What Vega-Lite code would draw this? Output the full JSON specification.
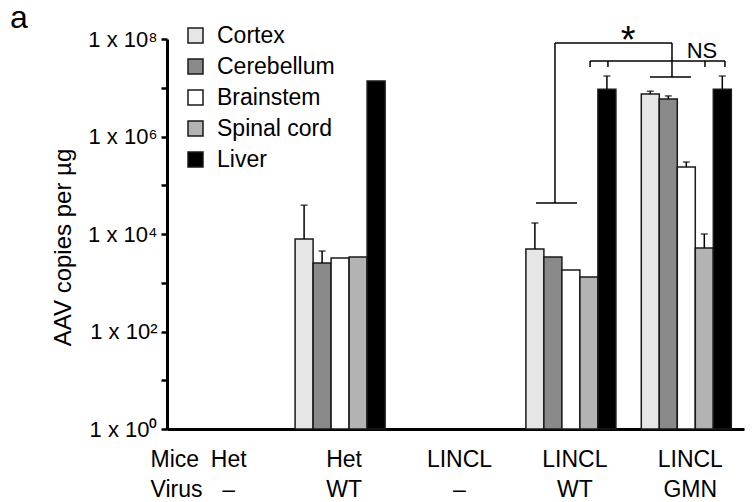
{
  "$schema": "https://vega.github.io/schema/vega-lite/v6.json",
  "width": 577,
  "height": 390,
  "autosize": {"type": "none"},
  "padding": {"left": 167, "top": 39, "right": 10, "bottom": 73},
  "background": "white",
  "config": {"font": "Liberation Sans", "view": {"stroke": null}, "axis": {"grid": false}},
  "title": {"text": "a", "anchor": "start", "frame": "group", "font": "Liberation Sans", "fontSize": 32, "fontWeight": "normal", "color": "black", "dx": -157, "dy": 37, "offset": 0, "baseline": "alphabetic"},
  "datasets": {
    "bars": [
      {"group": "Het|WT", "tissue": "Cortex", "value": 7900, "err": 39000},
      {"group": "Het|WT", "tissue": "Cerebellum", "value": 2540, "err": 4470},
      {"group": "Het|WT", "tissue": "Brainstem", "value": 3230, "err": null},
      {"group": "Het|WT", "tissue": "Spinal cord", "value": 3390, "err": null},
      {"group": "Het|WT", "tissue": "Liver", "value": 13800000, "err": null},
      {"group": "LINCL|WT", "tissue": "Cortex", "value": 4920, "err": 16800},
      {"group": "LINCL|WT", "tissue": "Cerebellum", "value": 3390, "err": null},
      {"group": "LINCL|WT", "tissue": "Brainstem", "value": 1830, "err": null},
      {"group": "LINCL|WT", "tissue": "Spinal cord", "value": 1310, "err": null},
      {"group": "LINCL|WT", "tissue": "Liver", "value": 9300000, "err": 17400000},
      {"group": "LINCL|GMN", "tissue": "Cortex", "value": 7400000, "err": 8500000},
      {"group": "LINCL|GMN", "tissue": "Cerebellum", "value": 5900000, "err": 6800000},
      {"group": "LINCL|GMN", "tissue": "Brainstem", "value": 236000, "err": 300000},
      {"group": "LINCL|GMN", "tissue": "Spinal cord", "value": 5150, "err": 10000},
      {"group": "LINCL|GMN", "tissue": "Liver", "value": 9300000, "err": 17400000}
    ],
    "brackets": [
      {"xa": 3.362, "xb": 4.376, "ya": 82800000, "yb": 82800000},
      {"xa": 3.362, "xb": 3.362, "ya": 82800000, "yb": 43200},
      {"xa": 3.198, "xb": 3.553, "ya": 43200, "yb": 43200},
      {"xa": 4.376, "xb": 4.376, "ya": 82800000, "yb": 16600000},
      {"xa": 4.185, "xb": 4.541, "ya": 16600000, "yb": 16600000},
      {"xa": 3.666, "xb": 4.835, "ya": 35400000, "yb": 35400000},
      {"xa": 3.666, "xb": 3.666, "ya": 35400000, "yb": 26700000},
      {"xa": 3.821, "xb": 3.821, "ya": 35400000, "yb": 26700000},
      {"xa": 4.662, "xb": 4.662, "ya": 35400000, "yb": 26700000},
      {"xa": 4.835, "xb": 4.835, "ya": 35400000, "yb": 26700000}
    ],
    "marks": [
      {"label": "*", "x": 3.995, "y": 51600000, "size": "big"},
      {"label": "NS", "x": 4.636, "y": 40800000, "size": "small"}
    ]
  },
  "layer": [
    {
      "data": {"name": "bars"},
      "encoding": {
        "x": {
          "field": "group", "type": "nominal", "sort": null,
          "scale": {"domain": ["Het|–", "Het|WT", "LINCL|–", "LINCL|WT", "LINCL|GMN"], "paddingInner": 0.22, "paddingOuter": 0.11},
          "axis": {
            "title": ["Mice", "Virus"],
            "labelExpr": "split(datum.label, '|')",
            "ticks": false, "tickSize": 0,
            "domainWidth": 3, "domainColor": "black",
            "labelFontSize": 23, "labelColor": "black", "labelPadding": 19, "labelLineHeight": 30, "labelAngle": 0, "labelOffset": 4,
            "titleFontSize": 23, "titleFontWeight": "normal", "titleColor": "black",
            "titleX": -17, "titleY": 19, "titleAlign": "left", "titleBaseline": "top", "titleLineHeight": 30
          }
        },
        "xOffset": {"field": "tissue", "type": "nominal", "sort": null, "scale": {"domain": ["Cortex", "Cerebellum", "Brainstem", "Spinal cord", "Liver"], "paddingInner": 0, "paddingOuter": 0}}
      },
      "layer": [
        {
          "mark": {"type": "bar", "stroke": "#1a1a1a", "strokeWidth": 1.5},
          "encoding": {
            "y": {
              "field": "value", "type": "quantitative",
              "scale": {"type": "log", "domain": [1, 100000000], "nice": false},
              "axis": {
                "title": "AAV copies per µg",
                "values": [1, 10, 100, 1000, 10000, 100000, 1000000, 10000000, 100000000],
                "labelExpr": "datum.value == 100000000 ? '1 x 10⁸' : datum.value == 1000000 ? '1 x 10⁶' : datum.value == 10000 ? '1 x 10⁴' : datum.value == 100 ? '1 x 10²' : datum.value == 1 ? '1 x 10⁰' : ''",
                "labelOverlap": false, "labelFlush": false,
                "domainWidth": 3, "domainColor": "black",
                "tickColor": "black", "tickWidth": 2.5, "tickSize": 6,
                "labelFontSize": 22, "labelColor": "black", "labelPadding": 4,
                "titleFontSize": 24, "titleFontWeight": "normal", "titleColor": "black", "titlePadding": 12, "titleY": 208
              }
            },
            "y2": {"datum": 1},
            "color": {
              "field": "tissue", "type": "nominal", "sort": null,
              "scale": {"domain": ["Cortex", "Cerebellum", "Brainstem", "Spinal cord", "Liver"], "range": ["#e6e6e6", "#8a8a8a", "#ffffff", "#b3b3b3", "#000000"]},
              "legend": {
                "title": null, "orient": "none", "legendX": 17, "legendY": -15,
                "symbolType": "square", "symbolSize": 225, "symbolStrokeColor": "#1a1a1a", "symbolStrokeWidth": 1.5, "symbolOpacity": 1,
                "labelFontSize": 23, "labelColor": "black", "labelOffset": 10, "rowPadding": 7, "padding": 0
              }
            }
          }
        },
        {
          "transform": [{"filter": "isValid(datum.err)"}],
          "mark": {"type": "rule", "strokeWidth": 1.5, "color": "black"},
          "encoding": {
            "y": {"field": "value", "type": "quantitative", "scale": {"type": "log", "domain": [1, 100000000], "nice": false}},
            "y2": {"field": "err"}
          }
        },
        {
          "transform": [{"filter": "isValid(datum.err)"}],
          "mark": {"type": "tick", "orient": "horizontal", "size": 7, "thickness": 1.5, "color": "black"},
          "encoding": {
            "y": {"field": "err", "type": "quantitative", "scale": {"type": "log", "domain": [1, 100000000], "nice": false}}
          }
        }
      ]
    },
    {
      "layer": [
        {
          "data": {"name": "brackets"},
          "mark": {"type": "rule", "strokeWidth": 1.5, "color": "black"},
          "encoding": {
            "x": {"field": "xa", "type": "quantitative", "scale": {"domain": [0, 5], "nice": false, "zero": false}, "axis": null},
            "x2": {"field": "xb"},
            "y": {"field": "ya", "type": "quantitative", "scale": {"type": "log", "domain": [1, 100000000], "nice": false}},
            "y2": {"field": "yb"}
          }
        },
        {
          "data": {"name": "marks"},
          "mark": {"type": "text", "color": "black", "baseline": "alphabetic", "align": "center"},
          "encoding": {
            "x": {"field": "x", "type": "quantitative", "scale": {"domain": [0, 5], "nice": false, "zero": false}, "axis": null},
            "y": {"field": "y", "type": "quantitative", "scale": {"type": "log", "domain": [1, 100000000], "nice": false}},
            "text": {"field": "label"},
            "size": {"field": "size", "type": "nominal", "scale": {"domain": ["big", "small"], "range": [38, 22]}, "legend": null}
          }
        }
      ]
    }
  ],
  "resolve": {"scale": {"x": "independent"}}
}
